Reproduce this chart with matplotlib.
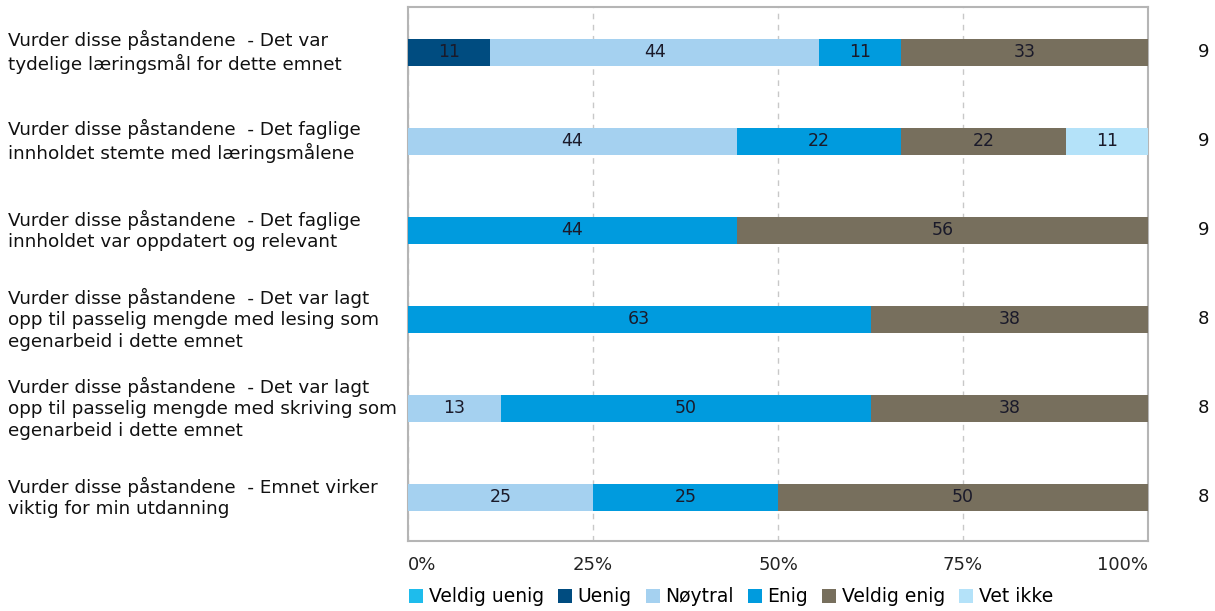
import matplotlib.pyplot as plt
from matplotlib.patches import Patch
from matplotlib.transforms import blended_transform_factory

questions = [
    "Vurder disse påstandene  - Det var\ntydelige læringsmål for dette emnet",
    "Vurder disse påstandene  - Det faglige\ninnholdet stemte med læringsmålene",
    "Vurder disse påstandene  - Det faglige\ninnholdet var oppdatert og relevant",
    "Vurder disse påstandene  - Det var lagt\nopp til passelig mengde med lesing som\negenarbeid i dette emnet",
    "Vurder disse påstandene  - Det var lagt\nopp til passelig mengde med skriving som\negenarbeid i dette emnet",
    "Vurder disse påstandene  - Emnet virker\nviktig for min utdanning",
]
categories = ["Veldig uenig", "Uenig", "Nøytral", "Enig", "Veldig enig", "Vet ikke"]
colors = ["#1ebcec", "#004c80", "#a5d1f0", "#009bde", "#776f5d", "#b4e2f9"]
ticks = [0, 25, 50, 75, 100]
tick_labels = ["0%", "25%", "50%", "75%", "100%"]

# answer counts per question, one list per category
veldig_uenig = [0, 0, 0, 0, 0, 0]
uenig = [1, 0, 0, 0, 0, 0]
noytral = [4, 4, 0, 0, 1, 2]
enig = [1, 2, 4, 5, 4, 2]
veldig_enig = [3, 2, 5, 3, 3, 4]
vet_ikke = [0, 1, 0, 0, 0, 0]
n_answers = [9, 9, 9, 8, 8, 8]

series = [veldig_uenig, uenig, noytral, enig, veldig_enig, vet_ikke]

plt.rcParams['font.family'] = ['DejaVu Sans']
fig = plt.figure(figsize=(12.15, 6.11), dpi=100)
ax = fig.add_axes([408 / 1215, 70 / 611, 740 / 1215, 534 / 611])

y = list(range(len(questions)))
left = [0.0] * len(questions)
for counts, color in zip(series, colors):
    pct = [c / n * 100 for c, n in zip(counts, n_answers)]
    bars = ax.barh(y, pct, left=left, height=0.31, color=color, zorder=3)
    for b, p in zip(bars, pct):
        if p > 0:
            ax.text(b.get_x() + b.get_width() / 2, b.get_y() + b.get_height() / 2,
                    str(int(p + 0.5)), ha="center", va="center",
                    fontsize=12.5, color="#1a1a2a", zorder=4)
    left = [l + p for l, p in zip(left, pct)]

ax.set_xlim(0, 100)
ax.set_ylim(5.49, -0.51)
ax.set_xticks(ticks)
ax.set_xticklabels([])
ax.tick_params(axis="x", length=0)
ax.set_yticks([])
ax.grid(axis="x", linestyle=(0, (4, 4)), color="#c8c8c8", linewidth=1, zorder=1)
for s in ax.spines.values():
    s.set_color("#b5b5b5")
    s.set_linewidth(1.5)

# first label flush left, last flush right, the rest centred
tr = blended_transform_factory(ax.transData, ax.transAxes)
for i, (tx, lab) in enumerate(zip(ticks, tick_labels)):
    ha = "left" if i == 0 else ("right" if i == len(ticks) - 1 else "center")
    ax.text(tx, -0.045, lab, transform=tr, ha=ha, va="center",
            fontsize=13, color="#222222")

for i, q in enumerate(questions):
    ax.text(-0.54, i, q, transform=ax.get_yaxis_transform(), ha="left", va="center",
            fontsize=13.2, color="#111111", linespacing=1.25)
    ax.text(1.075, i, str(n_answers[i]), transform=ax.get_yaxis_transform(),
            ha="center", va="center", fontsize=13, color="#111111")

handles = [Patch(facecolor=c, edgecolor="none") for c in colors]
fig.legend(handles, categories, loc="lower left", bbox_to_anchor=(392 / 1215, -0.02),
           ncol=6, frameon=False, fontsize=13.5, handlelength=0.75, handleheight=0.75,
           handletextpad=0.3, columnspacing=0.75)

fig.savefig("out.png", dpi=100)
